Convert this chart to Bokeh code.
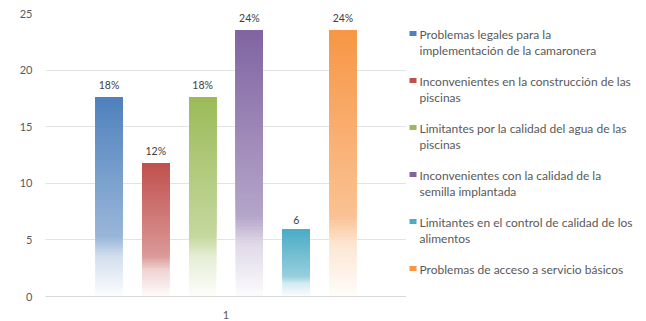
from bokeh.plotting import figure
from bokeh.layouts import row
from bokeh.models import Range1d, FixedTicker, ColumnDataSource
from bokeh.core.properties import value
from bokeh.embed import file_html
from bokeh.resources import INLINE

# ---- data ----
category = ["1"]
series = [
    "Problemas legales para la\nimplementación de la camaronera",
    "Inconvenientes en la construcción de las\npiscinas",
    "Limitantes por la calidad del agua de las\npiscinas",
    "Inconvenientes con la calidad de la\nsemilla implantada",
    "Limitantes en el control de calidad de los\nalimentos",
    "Problemas de acceso a servicio básicos",
]
values = [17.6, 11.8, 17.6, 23.5, 5.9, 23.5]
bar_labels = ["18%", "12%", "18%", "24%", "6", "24%"]
colors = ["#4f81bd", "#c0504d", "#9bbb59", "#8064a2", "#4bacc6", "#f79646"]
y_ticks = [0, 5, 10, 15, 20, 25]

FONT = "Lato"
TXT = "#595959"


def mix_white(hexcol, w):
    r, g, b = int(hexcol[1:3], 16), int(hexcol[3:5], 16), int(hexcol[5:7], 16)
    r = round(r + (255 - r) * w)
    g = round(g + (255 - g) * w)
    b = round(b + (255 - b) * w)
    return "#%02x%02x%02x" % (r, g, b)


def white_frac(t):
    if t >= 0.3:
        return 0.42 * (1 - t) / 0.7
    if t >= 0.2:
        return 0.42 + 0.33 * (0.3 - t) / 0.1
    return 0.75 + 0.23 * (0.2 - t) / 0.2


p = figure(width=406, height=321, output_backend="svg", toolbar_location=None,
           x_range=Range1d(0.5, 1.5), y_range=Range1d(0, 25),
           min_border_left=45, min_border_right=0, min_border_top=13,
           min_border_bottom=25)
p.title.visible = False
p.outline_line_color = None
p.background_fill_color = "white"
p.border_fill_color = "white"

spacing = 0.1296
bw = 0.075
xs = [1 + (i - (len(values) - 1) / 2) * spacing for i in range(len(values))]

N = 80
L, R, B, T, C = [], [], [], [], []
for x, v, c in zip(xs, values, colors):
    for k in range(N):
        tm = (k + 0.5) / N
        L.append(x - bw / 2)
        R.append(x + bw / 2)
        B.append(v * k / N)
        T.append(v)
        C.append(mix_white(c, white_frac(tm)))
p.quad(left=L, right=R, bottom=B, top=T, fill_color=C, line_color=None)

src = ColumnDataSource(dict(x=xs, y=values, t=bar_labels))
p.text(x="x", y="y", text="t", source=src, y_offset=-6, text_align="center",
       text_baseline="bottom", text_font=value(FONT), text_font_size="10.5px",
       text_color="#404040")

p.xaxis.ticker = FixedTicker(ticks=[1])
p.xaxis.major_label_overrides = {1: category[0]}
p.xaxis.major_tick_line_color = None
p.xaxis.minor_tick_line_color = None
p.xaxis.axis_line_color = "#d9d9d9"
p.xaxis.major_label_standoff = 8
p.xaxis.major_label_text_font = FONT
p.xaxis.major_label_text_font_size = "11px"
p.xaxis.major_label_text_color = TXT

p.yaxis.ticker = FixedTicker(ticks=y_ticks)
p.yaxis.major_tick_line_color = None
p.yaxis.minor_tick_line_color = None
p.yaxis.axis_line_color = None
p.yaxis.major_label_standoff = 7
p.yaxis.major_label_text_font = FONT
p.yaxis.major_label_text_font_size = "11px"
p.yaxis.major_label_text_color = TXT

p.xgrid.grid_line_color = None
p.ygrid.grid_line_color = "#e3e3e3"
p.ygrid.ticker = FixedTicker(ticks=y_ticks)

# ---- legend panel (frame aligned with main frame: window rows 13..296) ----
lg = figure(width=240, height=321, output_backend="svg", toolbar_location=None,
            x_range=Range1d(0, 240), y_range=Range1d(296, 13),
            x_axis_type=None, y_axis_type=None, title=None,
            min_border=0)
lg.grid.visible = False
lg.outline_line_color = None
lg.border_fill_color = "white"

ly = [33 + i * 47 for i in range(len(series))]
lg.rect(x=[6.5] * len(series), y=ly, width=7, height=5, fill_color=colors,
        line_color=None)
lsrc = ColumnDataSource(dict(x=[13] * len(series), y=[v - 7 for v in ly], t=series))
lg.text(x="x", y="y", text="t", source=lsrc, text_align="left",
        text_baseline="top", text_font=value(FONT), text_font_size="12px",
        text_color=TXT, text_line_height=1.1)

layout = row(p, lg, spacing=0)
open("out.html", "w").write(file_html(layout, INLINE))
